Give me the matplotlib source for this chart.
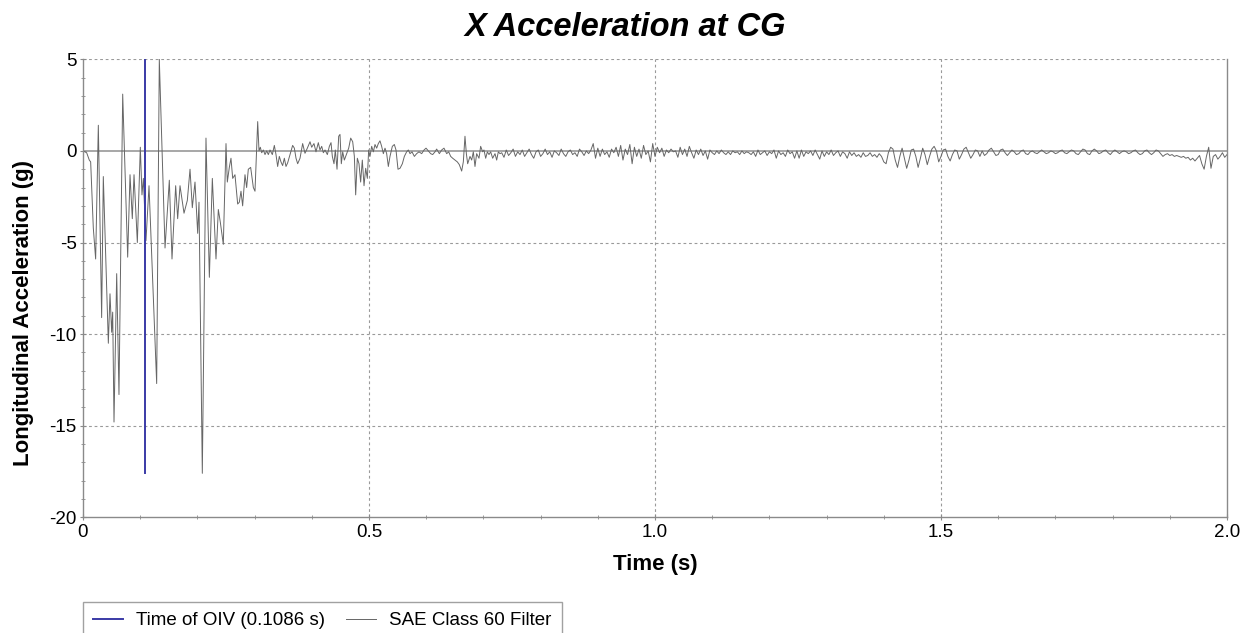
import numpy as np
import matplotlib
matplotlib.use('Agg')
import matplotlib.pyplot as plt
from matplotlib.ticker import MultipleLocator, FixedLocator

plt.rcParams['font.family'] = ['Liberation Sans', 'DejaVu Sans']
plt.rcParams['axes.unicode_minus'] = False

# time of OIV (s)
t_oiv = 0.1086

# early part of the trace, read point by point (time in s, accel in g)
t_early = [0.0000, 0.0064, 0.0110, 0.0134, 0.0180, 0.0221, 0.0268, 0.0326, 0.0355, 0.0443,
           0.0472, 0.0501, 0.0519, 0.0542, 0.0589, 0.0629, 0.0694, 0.0781, 0.0822, 0.0862,
           0.0892, 0.0950, 0.1002, 0.1031, 0.1055, 0.1101, 0.1154, 0.1288, 0.1334, 0.1434,
           0.1509, 0.1556, 0.1620, 0.1655, 0.1696, 0.1766, 0.1824, 0.1871, 0.1911, 0.1958,
           0.2005, 0.2028, 0.2086, 0.2150, 0.2209, 0.2261, 0.2325, 0.2366, 0.2401, 0.2453,
           0.2500, 0.2523, 0.2558, 0.2587, 0.2617, 0.2657, 0.2704, 0.2733, 0.2762, 0.2791,
           0.2832, 0.2861, 0.2890, 0.2931, 0.2978, 0.3007, 0.3054, 0.3077, 0.3100, 0.3124,
           0.3153, 0.3182, 0.3211, 0.3240, 0.3269, 0.3310, 0.3345, 0.3374, 0.3403, 0.3432,
           0.3461, 0.3490, 0.3520, 0.3549, 0.3578, 0.3619, 0.3665, 0.3695, 0.3724, 0.3753,
           0.3794, 0.3840, 0.3881, 0.3922, 0.3969, 0.3998, 0.4038, 0.4073, 0.4114, 0.4143,
           0.4173, 0.4202, 0.4231, 0.4272, 0.4307, 0.4336, 0.4359, 0.4388, 0.4411, 0.4441,
           0.4470, 0.4493, 0.4516, 0.4540, 0.4569, 0.4610, 0.4645, 0.4680, 0.4715, 0.4744,
           0.4767, 0.4796, 0.4825, 0.4854, 0.4883, 0.4913, 0.4942, 0.4971, 0.4994, 0.5017,
           0.5047, 0.5076, 0.5105, 0.5134, 0.5163, 0.5192, 0.5221, 0.5251, 0.5280, 0.5309,
           0.5338, 0.5367, 0.5408, 0.5443, 0.5472, 0.5507, 0.5542, 0.5583, 0.5618, 0.5658,
           0.5688, 0.5717, 0.5752, 0.5793, 0.5833, 0.5874, 0.5921, 0.5962, 0.5997, 0.6037,
           0.6078, 0.6113, 0.6154, 0.6183, 0.6230, 0.6270, 0.6311, 0.6358, 0.6393, 0.6428,
           0.6463, 0.6503, 0.6544, 0.6579, 0.6620, 0.6649, 0.6678, 0.6702, 0.6725, 0.6766,
           0.6795, 0.6824, 0.6853, 0.6882, 0.6923, 0.6952, 0.6987, 0.7010, 0.7040, 0.7069,
           0.7098, 0.7127, 0.7162, 0.7203, 0.7232, 0.7261, 0.7290]
a_early = [0.0, -0.1, -0.5, -0.6, -4.2, -5.9, 1.4, -9.1, -1.4, -10.5,
           -7.8, -9.9, -8.8, -14.8, -6.7, -13.3, 3.1, -5.8, -1.3, -3.7,
           -1.3, -5.0, 0.2, -2.4, -1.5, -4.9, -1.9, -12.7, 5.0, -5.3,
           -1.6, -5.9, -1.9, -3.7, -1.9, -3.4, -2.7, -1.0, -3.1, -1.7,
           -4.5, -2.8, -17.6, 0.7, -6.9, -1.5, -5.9, -3.2, -3.9, -5.1,
           0.4, -1.7, -0.9, -0.4, -1.5, -1.3, -2.9, -2.8, -2.2, -3.0,
           -1.3, -2.0, -1.0, -0.9, -2.0, -2.2, 1.6, 0.0, 0.2, -0.1,
           0.05, -0.2, 0.0, -0.2, 0.05, -0.2, 0.3, -0.2, -0.85, -0.3,
           -0.6, -0.8, -0.4, -0.85, -0.65, -0.2, 0.3, 0.15, -0.4, -0.7,
           -0.4, 0.4, -0.13, 0.15, 0.5, 0.2, 0.4, -0.05, 0.45, 0.05,
           0.25, -0.1, 0.05, -0.2, 0.25, 0.45, -0.3, -0.7, 0.05, -1.0,
           0.8, 0.9, -0.7, -0.05, -0.5, -0.15, 0.15, 0.7, 0.5, -0.3,
           -2.4, -0.4, -0.7, -1.7, -0.5, -1.9, -0.95, -1.5, 0.05, -0.3,
           0.25, -0.05, 0.35, 0.15, 0.4, 0.55, 0.25, -0.15, 0.15, -0.15,
           -0.85, -0.3, 0.25, 0.35, 0.05, -1.0, -0.95, -0.7, -0.3, -0.05,
           0.05, -0.15, -0.05, -0.3, -0.15, -0.05, -0.15, 0.05, 0.15, 0.0,
           -0.15, -0.2, -0.05, 0.1, -0.15, 0.05, 0.15, -0.15, -0.05, -0.3,
           -0.4, -0.5, -0.6, -0.75, -1.1, -0.6, 0.8, -0.15, -0.7, -0.3,
           -0.5, -0.05, -0.85, -0.15, -0.4, 0.25, -0.05, 0.05, -0.4, -0.05,
           -0.2, -0.05, -0.4, -0.15, -0.5, -0.05, -0.15]

# later part, read every 4 ms from 0.732 s
t_late_start = 0.732
t_late_step = 0.004
a_late = [-0.1, -0.35, 0.05, -0.25, -0.1, 0.1, -0.3, -0.05, -0.2, 0.05,
          -0.3, -0.1, 0.1, -0.2, -0.4, -0.05, 0.05, -0.3, -0.15, 0.1,
          -0.2, -0.05, -0.35, 0.0, -0.1, -0.25, 0.1, -0.15, -0.3, -0.05,
          0.05, -0.2, -0.1, -0.3, 0.1, -0.05, -0.25, 0.0, -0.15, 0.05,
          0.4, -0.4, 0.15, -0.3, 0.1, -0.2, -0.05, -0.35, 0.1, -0.1,
          0.2, -0.3, 0.3, -0.5, 0.1, -0.2, 0.35, -0.7, 0.2, -0.3,
          0.1, -0.4, 0.3, -0.2, 0.0, -0.6, 0.4, -0.3, 0.2, -0.1,
          0.15, -0.3, 0.05, -0.1, 0.1, -0.05, 0.0, -0.35, 0.2, -0.2,
          0.1, -0.3, 0.25, -0.1, -0.4, 0.05, -0.2, 0.1, -0.25, 0.0,
          -0.45, 0.05, -0.1, -0.2, 0.0, -0.15, 0.05, -0.1, -0.2, -0.05,
          -0.2, 0.0, -0.1, -0.05, -0.2, 0.0, -0.15, -0.05, -0.1, -0.2,
          -0.05, -0.3, 0.05, -0.2, -0.1, 0.0, -0.25, -0.05, -0.15, 0.05,
          -0.4, 0.0, -0.2, -0.1, -0.3, 0.05, -0.15, -0.05, -0.4, 0.0,
          -0.4, 0.05, -0.3, -0.05, -0.15, 0.0, -0.25, 0.05, -0.2, -0.45,
          0.0, -0.3, -0.05, -0.2, 0.05, -0.25, -0.1, 0.0, -0.3, -0.05,
          -0.15, -0.4, -0.05, -0.25, -0.1, -0.3, -0.2, -0.35, -0.1, -0.3,
          -0.25, -0.1, -0.3, -0.2, -0.35, -0.15, -0.3, -0.6, -0.7, -0.1,
          0.2, 0.1, -0.5, -0.9, -0.3, 0.15, -0.4, -0.95, -0.5, 0.05,
          0.1, -0.3, -0.9, -0.4, 0.15, -0.2, -0.75, -0.3, 0.1, 0.25,
          0.0, -0.6, -0.3, 0.05, 0.1, -0.3, -0.55, -0.2, 0.05, 0.0,
          -0.45, -0.2, 0.1, 0.2, -0.1, -0.4, -0.2, 0.05, 0.0, -0.3,
          0.0, -0.25, -0.15, 0.05, 0.15, -0.05, -0.25, -0.2, 0.05, 0.1,
          -0.1, -0.25, -0.1, 0.05, -0.05, -0.2, -0.15, 0.0, 0.05, -0.15,
          -0.2, -0.05, 0.0, -0.1, -0.15, -0.05, 0.05, -0.05, -0.15, -0.1,
          0.0, -0.05, -0.15, -0.1, 0.0, 0.05, -0.1, -0.15, -0.05, 0.05,
          0.0, -0.15, -0.2, -0.05, 0.1, 0.05, -0.15, -0.2, 0.0, 0.1,
          0.0, -0.15, -0.1, 0.0, 0.05, -0.1, -0.2, -0.05, 0.05, -0.05,
          -0.15, -0.05, 0.0, -0.05, -0.15, -0.1, 0.0, 0.05, -0.1, -0.2,
          -0.15, 0.0, 0.05, -0.1, -0.2, -0.1, 0.05, 0.0, -0.15, -0.3,
          -0.2, -0.15, -0.25, -0.2, -0.3, -0.25, -0.3, -0.35, -0.3, -0.4,
          -0.35, -0.5, -0.4, -0.55, -0.4, -0.25, -0.7, -1.0, -0.3, 0.2,
          -0.95, -0.3, -0.2, -0.45, -0.3, -0.1, -0.35, -0.2]

x_ticks = [0, 0.5, 1.0, 1.5, 2.0]
x_tick_labels = ['0', '0.5', '1.0', '1.5', '2.0']
y_ticks = [-20, -15, -10, -5, 0, 5]

t_late = t_late_start + t_late_step * np.arange(len(a_late))
time = np.concatenate([t_early, t_late])
accel = np.concatenate([a_early, a_late])

fig = plt.figure(figsize=(12.5, 6.33), dpi=100)
ax = fig.add_axes([0.0664, 0.1828, 0.9152, 0.7235])

grid_kw = dict(color='#9a9a9a', lw=0.8, ls=(0, (2.5, 2.5)), zorder=0)
for xv in x_ticks[1:-1]:
    ax.axvline(xv, **grid_kw)
for yv in [-15, -10, -5, 5]:
    ax.axhline(yv, **grid_kw)
ax.axhline(0, color='#a0a0a0', lw=1.3, zorder=1)

sig, = ax.plot(time, accel, color='#666666', lw=0.7, zorder=2, label='SAE Class 60 Filter')
oiv, = ax.plot([t_oiv, t_oiv], [accel.min(), accel.max()], color='#3a3aa6', lw=1.4,
               zorder=3, label='Time of OIV (0.1086 s)')

ax.set_xlim(0, 2.0)
ax.set_ylim(-20, 5)
ax.xaxis.set_major_locator(FixedLocator(x_ticks))
ax.set_xticklabels(x_tick_labels)
ax.yaxis.set_major_locator(FixedLocator(y_ticks))
ax.xaxis.set_minor_locator(MultipleLocator(0.1))
ax.yaxis.set_minor_locator(MultipleLocator(1))
ax.tick_params(which='both', direction='inout', color='#8a8a8a', labelsize=13.5,
               labelcolor='black')
ax.tick_params(which='major', length=5, pad=2)
ax.tick_params(which='minor', length=3)

for side in ['left', 'bottom', 'right']:
    ax.spines[side].set_color('#8a8a8a')
    ax.spines[side].set_linewidth(1.0)
ax.spines['top'].set_visible(False)

fig.text(0.5, 1 - 28 / 633, 'X Acceleration at CG', fontsize=23.5, fontweight='bold',
         fontstyle='italic', ha='center', va='center')
ax.set_xlabel('Time (s)', fontsize=16, fontweight='bold', labelpad=10)
ax.set_ylabel('Longitudinal Acceleration (g)', fontsize=16, fontweight='bold')
ax.yaxis.set_label_coords(-0.0425, 0.447)

leg = fig.legend(handles=[oiv, sig], loc='upper left', bbox_to_anchor=(0.0664, 1 - 601.7 / 633),
                 ncol=2, fontsize=13.5, frameon=True, fancybox=False, handlelength=1.6,
                 handletextpad=0.7, columnspacing=1.1, borderpad=0.55, borderaxespad=0)
leg.get_frame().set_edgecolor('#8a8a8a')
leg.get_frame().set_linewidth(1.0)

plt.savefig('out.png', dpi=100)
